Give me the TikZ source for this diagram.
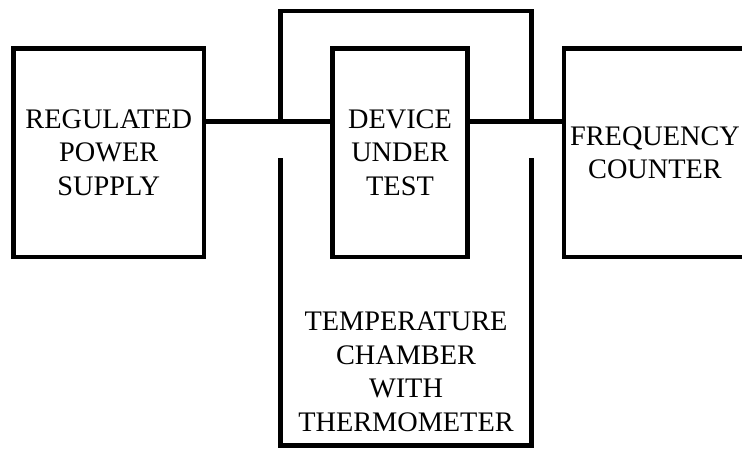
\documentclass[tikz,border=0pt]{standalone}
\usepackage{fontspec}
\setmainfont{Liberation Serif}
\begin{document}
\begin{tikzpicture}[x=1pt,y=-1pt,line width=4.6pt,
  lbl/.style={font=\fontsize{28.3}{33.5}\selectfont, align=center, inner sep=0pt},
  blk/.style={lbl, draw, minimum height=208.5pt},
  open/.style={lbl, outer sep=0pt}]
\useasboundingbox (0,0) rectangle (742,450);
% blocks
\node[blk, minimum width=190.5pt] (rps) at (108.75,152.75) {REGULATED\\POWER\\SUPPLY};
\node[blk, minimum width=135pt] (dut) at (400,152.75) {DEVICE\\UNDER\\TEST};
\node[open, minimum width=182pt, minimum height=208.5pt] (fc) at (655,152.75) {FREQUENCY\\COUNTER};
\node[open, minimum width=251pt, minimum height=434.5pt] (ch) at (406,228.25) {};
\node[lbl] (chlbl) at (406,372) {TEMPERATURE\\CHAMBER\\WITH\\THERMOMETER};
% levels
\coordinate (bus) at (0,121.5);
\coordinate (gap) at (0,158);
% frequency counter (open to the right)
\draw ([xshift=20pt]fc.north east) -- (fc.north west) -- (fc.south west) -- ([xshift=20pt]fc.south east);
% temperature chamber walls
\draw (ch.west |- bus) -- (ch.north west) -- (ch.north east) -- (ch.east |- bus);
\draw (ch.west |- gap) -- (ch.south west) -- (ch.south east) -- (ch.east |- gap);
% connections
\draw (rps.east |- bus) -- (dut.west |- bus);
\draw (dut.east |- bus) -- (fc.west |- bus);
\end{tikzpicture}
\end{document}
